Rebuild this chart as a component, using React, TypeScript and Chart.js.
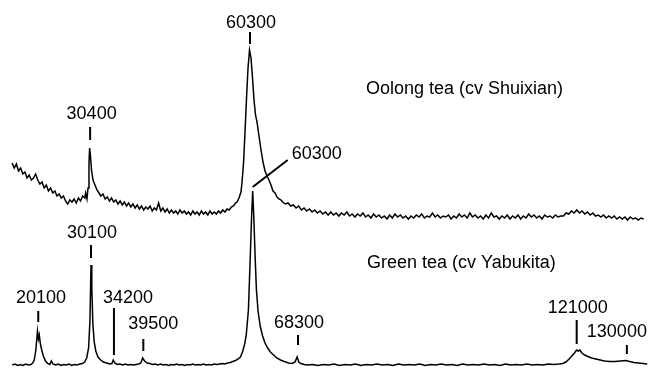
import React, { useEffect, useRef } from "react";
import { Chart, registerables } from "chart.js";

Chart.register(...registerables);

// Upper trace: Oolong tea (cv Shuixian) — [m/z, relative intensity]
const oolongTea: [number, number][] = [
  [15900, 55], [16300, 50], [16700, 54], [17100, 47], [17500, 50], [17900, 44], [18300, 46], [18700, 40],
  [19100, 43], [19500, 38], [19900, 40], [20300, 44], [20700, 38], [21100, 34], [21500, 36], [21900, 30],
  [22300, 33], [22700, 27], [23100, 30], [23500, 25], [23900, 27], [24300, 22], [24700, 24], [25100, 20],
  [25500, 22], [25900, 17], [26300, 14], [26700, 18], [27100, 16], [27500, 19], [27900, 15], [28300, 20],
  [28700, 17], [29100, 22], [29500, 20], [29650, 25], [29900, 19], [30100, 30], [30280, 55], [30400, 70],
  [30560, 62], [30750, 48], [31030, 38], [31400, 33], [31780, 28], [32150, 25], [32500, 22], [32900, 24],
  [33300, 19], [33700, 21], [34100, 17], [34500, 20], [34900, 16], [35300, 18], [35700, 14], [36100, 17],
  [36500, 13], [36900, 16], [37300, 12], [37700, 15], [38100, 11], [38500, 14], [38900, 10], [39300, 13],
  [39700, 9], [40100, 12], [40500, 8], [40900, 11], [41300, 9], [41700, 12], [42100, 7], [42500, 10],
  [42900, 8], [43300, 15], [43700, 7], [44100, 10], [44500, 6], [44900, 9], [45300, 5], [45700, 8],
  [46100, 5], [46500, 7], [46900, 4], [47300, 8], [47700, 5], [48100, 7], [48500, 4], [48900, 6],
  [49300, 3], [49700, 7], [50100, 4], [50500, 6], [50900, 3], [51300, 7], [51700, 4], [52100, 6],
  [52500, 3], [52900, 7], [53300, 4], [53700, 6], [54100, 4], [54500, 7], [54900, 5], [55300, 8],
  [55700, 6], [56100, 9], [56500, 8], [56900, 11], [57300, 12], [57700, 15], [57960, 16], [58330, 20],
  [58700, 26], [58890, 35], [59180, 55], [59450, 85], [59740, 120], [60020, 150], [60300, 168], [60580, 160],
  [60860, 140], [61140, 118], [61420, 103], [61700, 96], [62070, 82], [62450, 68], [62820, 56], [63200, 47],
  [63570, 42], [63940, 38], [64320, 33], [64690, 27], [65070, 25], [65440, 21], [65810, 19], [66190, 18],
  [66500, 16], [67000, 14], [67500, 15], [68000, 12], [68500, 13], [69000, 10], [69500, 12], [70000, 8],
  [70500, 10], [71000, 7], [71500, 9], [72000, 6], [72500, 8], [73000, 5], [73500, 7], [74000, 4],
  [74500, 6], [75000, 3], [75500, 6], [76000, 3], [76500, 5], [77000, 2], [77500, 5], [78000, 3],
  [78500, 6], [79000, 2], [79500, 4], [80000, 1], [80500, 4], [81000, 2], [81500, 5], [82000, 1],
  [82500, 3], [83000, 0], [83500, 4], [84000, 1], [84500, 3], [85000, 0], [85500, 2], [86000, -1],
  [86500, 3], [87000, 0], [87500, 4], [88000, 1], [88500, 3], [89000, 0], [89500, 2], [90000, -1],
  [90500, 2], [91000, 0], [91500, 3], [92000, 1], [92500, 4], [93000, 0], [93500, 2], [94000, 1],
  [94500, 5], [95000, 1], [95500, 3], [96000, 0], [96500, 2], [97000, 1], [97500, 3], [98000, -1],
  [98500, 2], [99000, 0], [99500, 4], [100000, 1], [100500, 3], [101000, 0], [101500, 5], [102000, 1],
  [102500, 3], [103000, 0], [103500, 2], [104000, -1], [104500, 3], [105000, 0], [105500, 5], [106000, 1],
  [106500, 2], [107000, -1], [107500, 2], [108000, 0], [108500, 3], [109000, -1], [109500, 2], [110000, 0],
  [110500, 3], [111000, -1], [111500, 2], [112000, 0], [112500, 4], [113000, 1], [113500, 3], [114000, 0],
  [114500, 2], [115000, -1], [115500, 3], [116000, 1], [116500, 2], [117000, 0], [117500, 3], [118000, 1],
  [118500, 2], [119000, 2], [119500, 5], [120000, 4], [120500, 7], [121000, 5], [121500, 8], [122000, 5],
  [122500, 7], [123000, 4], [123500, 6], [124000, 3], [124500, 5], [125000, 2], [125500, 3], [126000, 1],
  [126500, 3], [127000, 0], [127500, 2], [128000, 0], [128500, 2], [129000, -1], [129500, 1], [130000, -1],
  [130500, 1], [131000, -2], [131500, 1], [132000, -1], [132500, 0], [133000, -2], [133500, 0], [134000, -1],
];

// Lower trace: Green tea (cv Yabukita) — [m/z, relative intensity]
const greenTea: [number, number][] = [
  [15400, 1], [15900, 2], [16400, 0.5], [16900, 1.5], [17400, 0.5], [17900, 2], [18400, 1], [18900, 1.5],
  [19200, 3], [19500, 6], [19800, 16], [20100, 35], [20280, 27], [20440, 31], [20650, 22], [20900, 16],
  [21200, 10], [21600, 5], [22000, 2.5], [22400, 1.5], [22700, 5], [23000, 2], [23500, 1], [24000, 2],
  [24500, 0.5], [25000, 1.5], [25500, 1], [26000, 2], [26500, 0.5], [27000, 1.5], [27500, 1], [28000, 2],
  [28500, 2.5], [28900, 4], [29300, 8], [29650, 18], [29900, 45], [30100, 101], [30250, 78], [30450, 42],
  [30700, 24], [31000, 15], [31400, 9], [31900, 6], [32400, 4], [33000, 3], [33600, 2], [34000, 2.5],
  [34250, 6], [34550, 3], [35000, 1.5], [35500, 2], [36000, 1], [36500, 2], [37000, 1], [37500, 1.5],
  [38000, 1], [38500, 1.5], [39000, 2], [39400, 3], [39750, 8], [40100, 5], [40600, 3], [41100, 2.5],
  [41600, 1.5], [42100, 2], [42600, 1], [43100, 2], [43600, 1], [44100, 1.5], [44600, 0.5], [45100, 1.5],
  [45600, 1], [46100, 2], [46600, 1], [47100, 1.5], [47600, 0.5], [48100, 1.5], [48600, 1], [49100, 2],
  [49600, 1], [50100, 1.5], [50600, 1], [51100, 2], [51600, 1], [52100, 1.5], [52600, 1], [53100, 2],
  [53600, 1.5], [54100, 2], [54600, 2.5], [55100, 2], [55600, 3], [56100, 3.5], [56600, 4.5], [57100, 5.5],
  [57600, 7], [58000, 9], [58400, 14], [58800, 22], [59100, 31], [59500, 56], [59850, 110], [60100, 150],
  [60300, 175], [60500, 150], [60750, 110], [61000, 76], [61300, 55], [61700, 40], [62100, 31], [62600, 23],
  [63100, 18], [63600, 14], [64200, 11], [64800, 8], [65500, 6], [66200, 4.5], [67000, 3], [67700, 2.5],
  [68200, 4], [68600, 9], [68900, 4], [69300, 2.5], [69900, 1.5], [70500, 1], [71500, 1.5], [72500, 0.5],
  [73500, 1.5], [74500, 1], [75500, 2], [76500, 0.5], [77500, 1.5], [78500, 1], [79500, 2], [80500, 0.5],
  [81500, 1.5], [82500, 1], [83500, 2], [84500, 1], [85500, 1.5], [86500, 0.5], [87500, 2], [88500, 1],
  [89500, 1.5], [90500, 1], [91500, 2], [92500, 0.5], [93500, 1.5], [94500, 1], [95500, 2], [96500, 1],
  [97500, 1.5], [98500, 0.5], [99500, 2], [100500, 1], [101500, 1.5], [102500, 1], [103500, 2], [104500, 1],
  [105500, 1.5], [106500, 0.5], [107500, 2], [108500, 1], [109500, 1.5], [110500, 1], [111500, 2], [112500, 1],
  [113500, 1.5], [114500, 1], [115500, 2], [116500, 1.5], [117500, 2], [118200, 2.5], [118800, 4], [119400, 7],
  [119900, 10], [120400, 13], [120800, 16], [121100, 15], [121400, 16], [121800, 13], [122300, 11], [122900, 9.5],
  [123600, 8], [124400, 7], [125200, 6], [126000, 5], [127000, 4.5], [128000, 4.5], [129000, 5], [130000, 5.5],
  [130700, 4.5], [131500, 3.5], [132300, 3], [133200, 2.5], [134000, 2],
];

const seriesNames = ["Oolong tea (cv Shuixian)", "Green tea (cv Yabukita)"];
const oolongPeakLabels = [30400, 60300];
const greenPeakLabels = [20100, 30100, 34200, 39500, 60300, 68300, 121000, 130000];

// Layout of the peak labels (intensity units of each trace's axis, pixel offsets)
type LabelLayout = { tick: [number, number]; textY: number; dx: number; tickDx?: number; leader?: boolean; leaderDx?: number; align?: CanvasTextAlign };
const oolongLabelLayout: Record<number, LabelLayout> = {
  30400: { tick: [91, 78], textY: 99, dx: 2, tickDx: 0.5 },
  60300: { tick: [186, 174], textY: 190, dx: 1.5, tickDx: 0.5 },
};
const greenLabelLayout: Record<number, LabelLayout> = {
  20100: { tick: [55, 44], textY: 63, dx: 3.5, tickDx: 0.8 },
  30100: { tick: [121, 108], textY: 128, dx: 1 },
  34200: { tick: [58, 11], textY: 63, dx: 15, tickDx: 1 },
  39500: { tick: [27, 15], textY: 37, dx: 12, tickDx: 2 },
  60300: { tick: [179, 206], textY: 207, dx: 39, leader: true, leaderDx: 35, align: "left" },
  68300: { tick: [31, 21], textY: 38, dx: 3.5, tickDx: 2.5 },
  121000: { tick: [46, 22], textY: 53, dx: 0, tickDx: -1 },
  130000: { tick: [21, 12], textY: 29, dx: -9, tickDx: 1 },
};
const titleLayout = [
  { x: 82080, y: 124.5 },
  { x: 81660, y: 98.5 },
];

const FONT = '18px "Liberation Sans", Arial, Helvetica, sans-serif';

const peakLabelPlugin = {
  id: "peakLabels",
  afterDatasetsDraw(chart: any) {
    const ctx: CanvasRenderingContext2D = chart.ctx;
    const { x, y, x2, y2 } = chart.scales;
    ctx.save();
    ctx.fillStyle = "#000";
    ctx.strokeStyle = "#000";
    ctx.font = FONT;
    ctx.textBaseline = "alphabetic";
    ctx.lineWidth = 2;
    const drawSet = (values: number[], layout: Record<number, LabelLayout>, xs: any, ys: any) => {
      for (const v of values) {
        const L = layout[v];
        const px = xs.getPixelForValue(v);
        ctx.beginPath();
        if (L.leader) {
          ctx.moveTo(px + (L.tickDx || 0), ys.getPixelForValue(L.tick[0]));
          ctx.lineTo(px + (L.leaderDx || 0), ys.getPixelForValue(L.tick[1]));
        } else {
          const tx = px + (L.tickDx || 0);
          ctx.moveTo(tx, ys.getPixelForValue(L.tick[0]));
          ctx.lineTo(tx, ys.getPixelForValue(L.tick[1]));
        }
        ctx.stroke();
        ctx.textAlign = L.align || "center";
        ctx.fillText(String(v), px + L.dx, ys.getPixelForValue(L.textY));
      }
    };
    drawSet(oolongPeakLabels, oolongLabelLayout, x2, y2);
    drawSet(greenPeakLabels, greenLabelLayout, x, y);
    ctx.textAlign = "left";
    ctx.fillText(seriesNames[0], x2.getPixelForValue(titleLayout[0].x), y2.getPixelForValue(titleLayout[0].y));
    ctx.fillText(seriesNames[1], x.getPixelForValue(titleLayout[1].x), y.getPixelForValue(titleLayout[1].y));
    ctx.restore();
  },
};

export default function App() {
  const canvasRef = useRef<HTMLCanvasElement | null>(null);
  useEffect(() => {
    const canvas = canvasRef.current;
    if (!canvas) return;
    const chart = new Chart(canvas, {
      type: "line",
      data: {
        datasets: [
          {
            label: seriesNames[0],
            data: oolongTea.map(([m, i]) => ({ x: m, y: i })),
            xAxisID: "x2",
            yAxisID: "y2",
            borderColor: "#000",
            borderWidth: 1.5,
            pointRadius: 0,
            tension: 0,
            fill: false,
          },
          {
            label: seriesNames[1],
            data: greenTea.map(([m, i]) => ({ x: m, y: i })),
            xAxisID: "x",
            yAxisID: "y",
            borderColor: "#000",
            borderWidth: 1.5,
            pointRadius: 0,
            tension: 0,
            fill: false,
          },
        ],
      },
      options: {
        responsive: false,
        animation: false,
        layout: { padding: 0 },
        plugins: { legend: { display: false }, tooltip: { enabled: false }, title: { display: false } },
        scales: {
          x: { type: "linear", min: 13103, max: 134321, display: false },
          x2: { type: "linear", min: 13640, max: 135003, display: false },
          y: { type: "linear", min: -2, max: 366, display: false },
          y2: { type: "linear", min: -150, max: 218, display: false },
        },
      },
      plugins: [peakLabelPlugin],
    });
    return () => chart.destroy();
  }, []);
  return (
    <div style={{ position: "absolute", left: 0, top: 0, width: 649, height: 368, background: "#fff" }}>
      <canvas ref={canvasRef} width={649} height={368} style={{ width: 649, height: 368 }} />
    </div>
  );
}
